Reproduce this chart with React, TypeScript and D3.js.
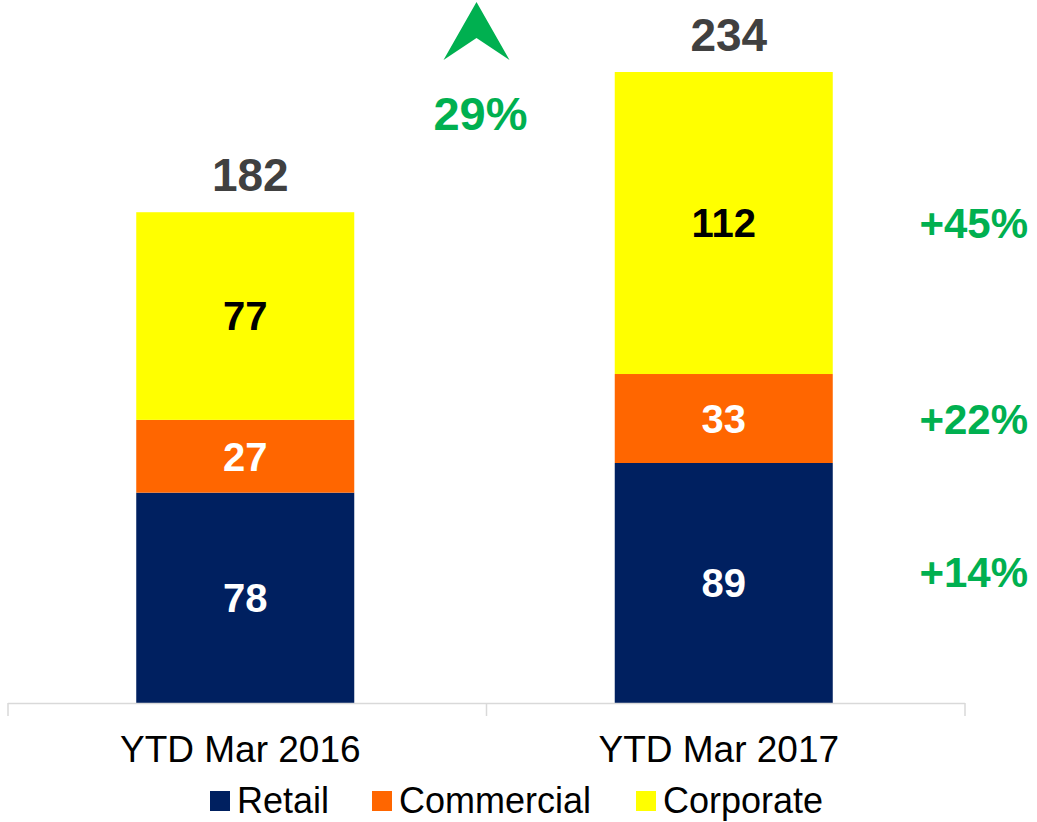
import React from "react";
import * as d3 from "d3";

const categories = ["YTD Mar 2016", "YTD Mar 2017"];
const seriesNames = ["Retail", "Commercial", "Corporate"];
const retail = [78, 89];
const commercial = [27, 33];
const corporate = [77, 112];
const totals = [182, 234];
const growthLabels = ["+14%", "+22%", "+45%"];
const totalGrowth = "29%";

const colors = ["#002060", "#ff6600", "#ffff00"];
const labelColors = ["#ffffff", "#ffffff", "#000000"];

const W = 1037;
const H = 822;
const FONT = "'Liberation Sans', Arial, sans-serif";
const GREEN = "#00b050";

export default function App() {
  const x = d3
    .scaleBand<string>()
    .domain(categories)
    .range([6, 963])
    .paddingInner(0.5444)
    .paddingOuter(0.2722);
  const y = d3.scaleLinear().domain([0, 234]).range([703, 72]);

  const table = categories.map((c, i) => ({
    cat: c,
    Retail: retail[i],
    Commercial: commercial[i],
    Corporate: corporate[i],
  }));
  const stacked = d3.stack<any>().keys(seriesNames)(table);

  const bw = x.bandwidth();
  const lastCat = categories[categories.length - 1];
  const midX = ((x(categories[0]) as number) + bw / 2 + (x(lastCat) as number) + bw / 2) / 2 - 4;
  const step = x.step();

  return (
    <svg width={W} height={H} style={{ position: "absolute", left: 0, top: 0 }}>
      <rect width={W} height={H} fill="#ffffff" />
      {stacked.map((layer, si) =>
        layer.map((d, ci) => (
          <g key={`${si}-${ci}`}>
            <rect
              x={x(categories[ci]) as number}
              y={y(d[1])}
              width={bw}
              height={y(d[0]) - y(d[1])}
              fill={colors[si]}
            />
            <text
              x={(x(categories[ci]) as number) + bw / 2}
              y={(y(d[0]) + y(d[1])) / 2}
              dy="0.36em"
              textAnchor="middle"
              fontFamily={FONT}
              fontWeight="bold"
              fontSize={40}
              fill={labelColors[si]}
            >
              {d[1] - d[0]}
            </text>
          </g>
        ))
      )}
      {categories.map((c, i) => (
        <text
          key={c + "t"}
          x={(x(c) as number) + bw / 2 + 5}
          y={y(totals[i]) - 38}
          dy="0.36em"
          textAnchor="middle"
          fontFamily={FONT}
          fontWeight="bold"
          fontSize={46}
          fill="#404040"
        >
          {totals[i]}
        </text>
      ))}
      {/* axis */}
      <line x1={8} x2={965} y1={703.5} y2={703.5} stroke="#d9d9d9" strokeWidth={1.5} />
      {[8, 8 + step, 8 + 2 * step].map((tx, i) => (
        <line key={"tk" + i} x1={tx} x2={tx} y1={703} y2={716} stroke="#d9d9d9" strokeWidth={1.5} />
      ))}
      {categories.map((c) => (
        <text
          key={c + "l"}
          x={(x(c) as number) + bw / 2 - 5}
          y={762}
          textAnchor="middle"
          fontFamily={FONT}
          fontSize={37}
          fill="#000000"
        >
          {c}
        </text>
      ))}
      {/* growth labels */}
      {stacked.map((layer, si) => {
        const d = layer[layer.length - 1];
        return (
          <text
            key={"g" + si}
            x={1028}
            y={(y(d[0]) + y(d[1])) / 2}
            dy={si === 0 ? "0.1em" : "0.36em"}
            textAnchor="end"
            fontFamily={FONT}
            fontWeight="bold"
            fontSize={42}
            fill={GREEN}
          >
            {growthLabels[si]}
          </text>
        );
      })}
      {/* total growth */}
      <path
        d={`M${midX - 33},60 L${midX},2 L${midX + 33},60 L${midX},38 Z`}
        fill={GREEN}
        transform="translate(-4,0)"
      />
      <text
        x={midX}
        y={113}
        dy="0.36em"
        textAnchor="middle"
        fontFamily={FONT}
        fontWeight="bold"
        fontSize={47}
        fill={GREEN}
      >
        {totalGrowth}
      </text>
      {/* legend */}
      {seriesNames.map((s, i) => {
        const xs = [210, 372, 636];
        return (
          <g key={"lg" + s}>
            <rect x={xs[i]} y={791} width={20} height={20} fill={colors[i]} />
            <text x={xs[i] + 27} y={813} fontFamily={FONT} fontSize={36} fill="#000000">
              {s}
            </text>
          </g>
        );
      })}
    </svg>
  );
}
